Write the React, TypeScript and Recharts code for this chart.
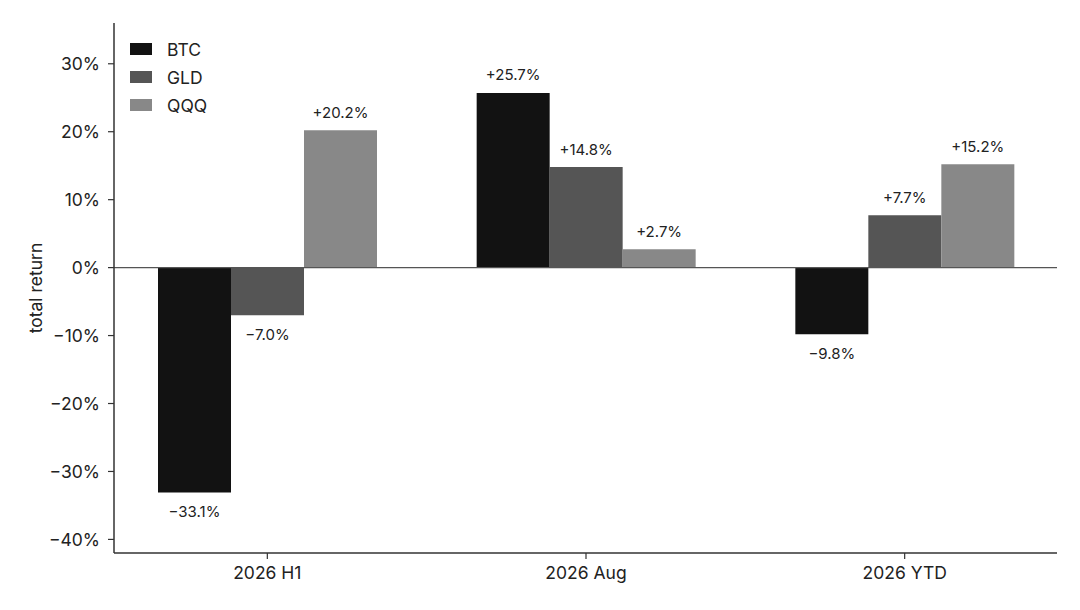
import { BarChart, Bar, XAxis, YAxis, ReferenceLine, Legend, LabelList } from 'recharts';

const categories = ['2026 H1', '2026 Aug', '2026 YTD'];
const btc = [-33.1, 25.7, -9.8];
const gld = [-7.0, 14.8, 7.7];
const qqq = [20.2, 2.7, 15.2];
const yTicks = [-40, -30, -20, -10, 0, 10, 20, 30];

const series = [
  { key: 'BTC', values: btc, color: '#121212' },
  { key: 'GLD', values: gld, color: '#555555' },
  { key: 'QQQ', values: qqq, color: '#888888' },
];

const data = categories.map((name, i) => ({
  name,
  BTC: btc[i],
  GLD: gld[i],
  QQQ: qqq[i],
}));

const FONT = 'Inter, "Liberation Sans", sans-serif';

const fmtPct = (v: number) => (v < 0 ? '\u2212' : '') + Math.abs(v) + '%';
const fmtVal = (v: number) => (v < 0 ? '\u2212' : '+') + Math.abs(v).toFixed(1) + '%';

const ValueLabel = (props: any) => {
  const { x, y, width, height, value } = props;
  const top = Math.min(y, y + height);
  const bottom = Math.max(y, y + height);
  const cx = x + width / 2;
  const ty = value >= 0 ? top - 18 : bottom + 19;
  return (
    <text x={cx} y={ty} textAnchor="middle" dominantBaseline="central" fontSize={15} fill="#222" fontFamily={FONT}>
      {fmtVal(value)}
    </text>
  );
};

// legend drawn in the top-left corner of the plot
const renderLegend = () => (
  <div style={{ fontFamily: FONT, fontSize: 17.5, color: '#222' }}>
    {series.map((s) => (
      <div key={s.key} style={{ display: 'flex', alignItems: 'center', height: 28 }}>
        <span style={{ display: 'inline-block', width: 22, height: 12, background: s.color, marginRight: 15 }} />
        <span>{s.key}</span>
      </div>
    ))}
  </div>
);

const YLabel = (props: any) => {
  const vb = props.viewBox || { x: 0, y: 0, height: 0 };
  const cx = 35;
  const cy = vb.y + vb.height / 2;
  return (
    <text x={cx} y={cy} transform={`rotate(-90 ${cx} ${cy})`} textAnchor="middle" dominantBaseline="central" fontSize={17.5} fill="#222" fontFamily={FONT}>
      total return
    </text>
  );
};

export default function App() {
  return (
    <div style={{ position: 'absolute', left: 0, top: 0, background: '#fff', fontFamily: FONT }}>
      <BarChart
        width={1080}
        height={610}
        data={data}
        margin={{ top: 23, right: 23, left: 0, bottom: 0 }}
        barGap={0}
        barSize={73}
      >
        <XAxis
          dataKey="name"
          padding={{ left: -6, right: -7 }}
          height={57}
          axisLine={{ stroke: '#333', strokeWidth: 1.5 }}
          tickLine={{ stroke: '#333', strokeWidth: 1.2 }}
          tickSize={6}
          tickMargin={8}
          tick={{ fontSize: 17.5, fill: '#222', fontFamily: FONT }}
        />
        <YAxis
          width={114}
          domain={[-42, 36]}
          ticks={yTicks}
          allowDataOverflow
          tickFormatter={fmtPct}
          axisLine={{ stroke: '#333', strokeWidth: 1.5 }}
          tickLine={{ stroke: '#333', strokeWidth: 1.2 }}
          tickSize={6}
          tickMargin={8}
          tick={{ fontSize: 17.5, fill: '#222', fontFamily: FONT }}
          label={<YLabel />}
        />
        <Legend
          layout="horizontal"
          verticalAlign="middle"
          align="center"
          content={renderLegend}
          wrapperStyle={{ left: 130, top: 35, width: 'auto', height: 'auto' }}
        />
        {series.map((s) => (
          <Bar key={s.key} dataKey={s.key} fill={s.color} isAnimationActive={false}>
            <LabelList dataKey={s.key} content={<ValueLabel />} />
          </Bar>
        ))}
        <ReferenceLine y={0} stroke="#555" strokeWidth={1.2} />
      </BarChart>
    </div>
  );
}
